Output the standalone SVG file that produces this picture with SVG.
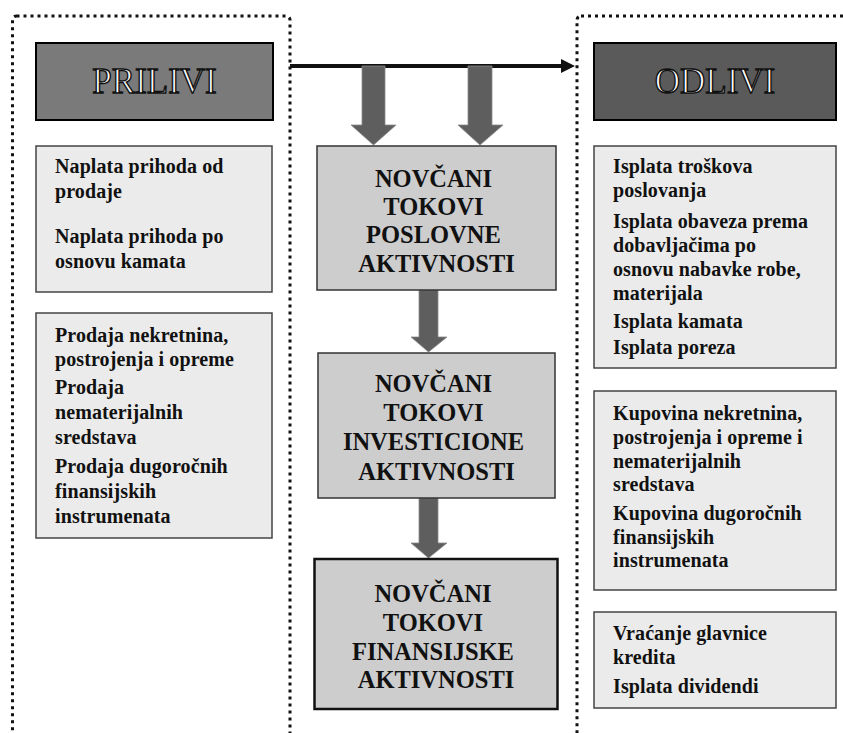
<svg xmlns="http://www.w3.org/2000/svg" width="843" height="733" viewBox="0 0 843 733">
  <defs>
    <style>
      .frame { fill: none; stroke: #111; stroke-width: 3; stroke-dasharray: 3 4; }
      .head { stroke: #000; stroke-width: 2; }
      .head-in { fill: #7a7a7a; }
      .head-out { fill: #5a5a5a; }
      .head-txt { font-family: "Liberation Serif", "Times New Roman", serif; font-size: 35px; fill: #fff; stroke: #111; stroke-width: 1.4; text-anchor: middle; }
      .flow { fill: #cdcdcd; stroke: #333; stroke-width: 1.5; }
      .flow-strong { fill: #cdcdcd; stroke: #111; stroke-width: 2.5; }
      .flow-txt { font-family: "Liberation Serif", "Times New Roman", serif; font-weight: bold; font-size: 24.5px; fill: #111; text-anchor: middle; }
      .item { fill: #ebebeb; stroke: #444; stroke-width: 1.5; }
      .item-txt { font-family: "Liberation Serif", "Times New Roman", serif; font-weight: bold; font-size: 20px; letter-spacing: 0.1px; fill: #111; }
      .block { fill: #5e5e5e; stroke: #8a8a8a; stroke-width: 0.8; }
    </style>
    <marker id="tip" viewBox="0 0 14 14" refX="1" refY="7" markerWidth="14" markerHeight="14" markerUnits="userSpaceOnUse" orient="auto">
      <path d="M0,0 L14,7 L0,14 Z" fill="#111"/>
    </marker>
  </defs>

  <rect width="843" height="733" fill="#fff"/>

  <!-- dotted column frames -->
  <g id="frames">
    <rect class="frame" x="12.5" y="16" width="277.5" height="760" rx="4"/>
    <rect class="frame" x="577" y="16" width="300" height="760" rx="4"/>
  </g>

  <!-- connectors -->
  <g id="connectors">
    <line x1="290" y1="66" x2="562" y2="66" stroke="#111" stroke-width="4" marker-end="url(#tip)"/>
    <polygon class="block" points="362,66 385,66 385,125 396,125 373.5,145 351,125 362,125"/>
    <polygon class="block" points="468,66 492,66 492,125 503,125 480,145 458,125 468,125"/>
    <polygon class="block" points="419,290 438,290 438,337 447,337 428.5,352 411,337 419,337"/>
    <polygon class="block" points="419,498 438,498 438,543 447,543 428.5,558 411,543 419,543"/>
  </g>

  <!-- headers -->
  <g id="prilivi">
    <rect class="head head-in" x="36" y="43" width="237" height="77"/>
    <text class="head-txt" x="154.5" y="93">PRILIVI</text>
  </g>
  <g id="odlivi">
    <rect class="head head-out" x="594" y="43" width="242" height="77"/>
    <text class="head-txt" x="715" y="93">ODLIVI</text>
  </g>

  <!-- central flow -->
  <g id="poslovne">
    <rect class="flow" x="317" y="146" width="239" height="144"/>
    <text class="flow-txt">
      <tspan x="436.5" y="187">NOVČANI</tspan>
      <tspan x="436.5" y="215">TOKOVI</tspan>
      <tspan x="436.5" y="243">POSLOVNE</tspan>
      <tspan x="436.5" y="272">AKTIVNOSTI</tspan>
    </text>
  </g>
  <g id="investicione">
    <rect class="flow" x="318" y="353" width="237" height="145"/>
    <text class="flow-txt">
      <tspan x="436.5" y="392">NOVČANI</tspan>
      <tspan x="436.5" y="421">TOKOVI</tspan>
      <tspan x="436.5" y="450">INVESTICIONE</tspan>
      <tspan x="436.5" y="480">AKTIVNOSTI</tspan>
    </text>
  </g>
  <g id="finansijske">
    <rect class="flow-strong" x="314.5" y="559" width="243" height="150"/>
    <text class="flow-txt">
      <tspan x="436" y="602">NOVČANI</tspan>
      <tspan x="436" y="631">TOKOVI</tspan>
      <tspan x="436" y="660">FINANSIJSKE</tspan>
      <tspan x="436" y="688">AKTIVNOSTI</tspan>
    </text>
  </g>

  <!-- inflows -->
  <g id="prilivi-poslovni">
    <rect class="item" x="36" y="146" width="236" height="146"/>
    <text class="item-txt">
      <tspan x="55" y="173">Naplata prihoda od</tspan>
      <tspan x="55" y="198">prodaje</tspan>
      <tspan x="55" y="243">Naplata prihoda po</tspan>
      <tspan x="55" y="268">osnovu kamata</tspan>
    </text>
  </g>
  <g id="prilivi-investicioni">
    <rect class="item" x="36" y="313" width="236" height="225"/>
    <text class="item-txt">
      <tspan x="55" y="342">Prodaja nekretnina,</tspan>
      <tspan x="55" y="366">postrojenja i opreme</tspan>
      <tspan x="55" y="394">Prodaja</tspan>
      <tspan x="55" y="419">nematerijalnih</tspan>
      <tspan x="55" y="444">sredstava</tspan>
      <tspan x="55" y="473">Prodaja dugoročnih</tspan>
      <tspan x="55" y="498">finansijskih</tspan>
      <tspan x="55" y="523">instrumenata</tspan>
    </text>
  </g>

  <!-- outflows -->
  <g id="odlivi-poslovni">
    <rect class="item" x="594" y="146" width="242" height="222"/>
    <text class="item-txt">
      <tspan x="613" y="173">Isplata troškova</tspan>
      <tspan x="613" y="197">poslovanja</tspan>
      <tspan x="613" y="228">Isplata obaveza prema</tspan>
      <tspan x="613" y="252">dobavljačima po</tspan>
      <tspan x="613" y="276">osnovu nabavke robe,</tspan>
      <tspan x="613" y="300">materijala</tspan>
      <tspan x="613" y="328">Isplata kamata</tspan>
      <tspan x="613" y="354">Isplata poreza</tspan>
    </text>
  </g>
  <g id="odlivi-investicioni">
    <rect class="item" x="594" y="391" width="242" height="199"/>
    <text class="item-txt">
      <tspan x="613" y="420">Kupovina nekretnina,</tspan>
      <tspan x="613" y="444">postrojenja i opreme i</tspan>
      <tspan x="613" y="468">nematerijalnih</tspan>
      <tspan x="613" y="491">sredstava</tspan>
      <tspan x="613" y="520">Kupovina dugoročnih</tspan>
      <tspan x="613" y="544">finansijskih</tspan>
      <tspan x="613" y="567">instrumenata</tspan>
    </text>
  </g>
  <g id="odlivi-finansijski">
    <rect class="item" x="594" y="612" width="242" height="96"/>
    <text class="item-txt">
      <tspan x="613" y="640">Vraćanje glavnice</tspan>
      <tspan x="613" y="664">kredita</tspan>
      <tspan x="613" y="693">Isplata dividendi</tspan>
    </text>
  </g>
</svg>
